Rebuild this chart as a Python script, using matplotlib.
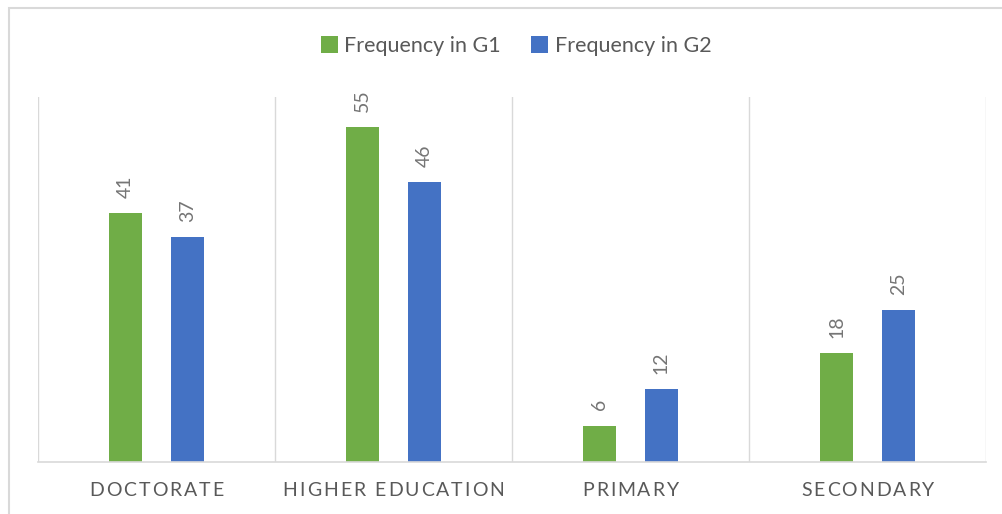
import matplotlib
matplotlib.use("Agg")
import matplotlib.pyplot as plt
from matplotlib.patches import Rectangle
from matplotlib.font_manager import FontProperties
import numpy as np

categories = ["DOCTORATE", "HIGHER EDUCATION", "PRIMARY", "SECONDARY"]
freq_g1 = [41, 55, 6, 18]
freq_g2 = [37, 46, 12, 25]
series_names = ["Frequency in G1", "Frequency in G2"]

GREEN = "#70AD47"
BLUE = "#4472C4"
TEXT = "#595959"
LABEL = "#757575"
GRID = "#D9D9D9"
FONT = "Lato"

W, H = 1002, 514
fig = plt.figure(figsize=(W / 100, H / 100), dpi=100)
fig.patch.set_facecolor("white")

# outer chart frame
fig.patches.append(Rectangle((9 / W, -0.05), 1.2, 1 - 8 / H + 0.05,
                             transform=fig.transFigure, fill=False,
                             edgecolor=GRID, linewidth=1.5))

left, right, top, bottom = 38, 986, 97, 462
ax = fig.add_axes([left / W, 1 - bottom / H, (right - left) / W, (bottom - top) / H])

x = np.arange(len(categories))
bw = 0.14
off = 0.13
b1 = ax.bar(x - off, freq_g1, bw, color=GREEN, label=series_names[0])
b2 = ax.bar(x + off, freq_g2, bw, color=BLUE, label=series_names[1])

ax.set_xlim(-0.5, len(categories) - 0.5)
ax.set_ylim(0, 60)

for s in ["top", "right", "left"]:
    ax.spines[s].set_visible(False)
ax.spines["bottom"].set_color(GRID)
ax.spines["bottom"].set_linewidth(1.2)
ax.set_yticks([])
ax.set_xticks([])

# category separators
for b in np.arange(-0.5, len(categories), 1.0):
    ax.axvline(b, color=GRID, linewidth=1.0, zorder=0)

# rotated value labels
for bars, vals in ((b1, freq_g1), (b2, freq_g2)):
    for r, v in zip(bars, vals):
        ax.annotate(str(v), (r.get_x() + r.get_width() / 2, v),
                    xytext=(0, 15), textcoords="offset pixels",
                    rotation=90, ha="center", va="bottom",
                    color=LABEL, fontsize=14, fontfamily=FONT)

# letter-spaced category labels
fig.canvas.draw()
renderer = fig.canvas.get_renderer()
fp = FontProperties(family=FONT, size=14)
spacing = 2.0
for xi, lab in zip(x, categories):
    widths = [renderer.get_text_width_height_descent(ch if ch != " " else "n", fp, ismath=False)[0]
              * (0.5 if ch == " " else 1.0) for ch in lab]
    total = sum(widths) + spacing * (len(lab) - 1)
    pos = -total / 2
    for ch, w in zip(lab, widths):
        if ch != " ":
            ax.annotate(ch, (xi, 0), xycoords=("data", "axes fraction"),
                        xytext=(pos, -(490 - bottom)), textcoords="offset pixels",
                        ha="left", va="center", color=TEXT, fontproperties=fp)
        pos += w + spacing

leg = fig.legend(handles=[b1, b2], labels=series_names, loc="center",
                 bbox_to_anchor=(516 / W, 1 - 46 / H), ncol=2, frameon=False,
                 prop=FontProperties(family=FONT, size=15.5),
                 handlelength=0.8, handleheight=0.8, handletextpad=0.3,
                 columnspacing=1.4, labelcolor=TEXT)

fig.savefig("out.png", dpi=100, facecolor="white")
